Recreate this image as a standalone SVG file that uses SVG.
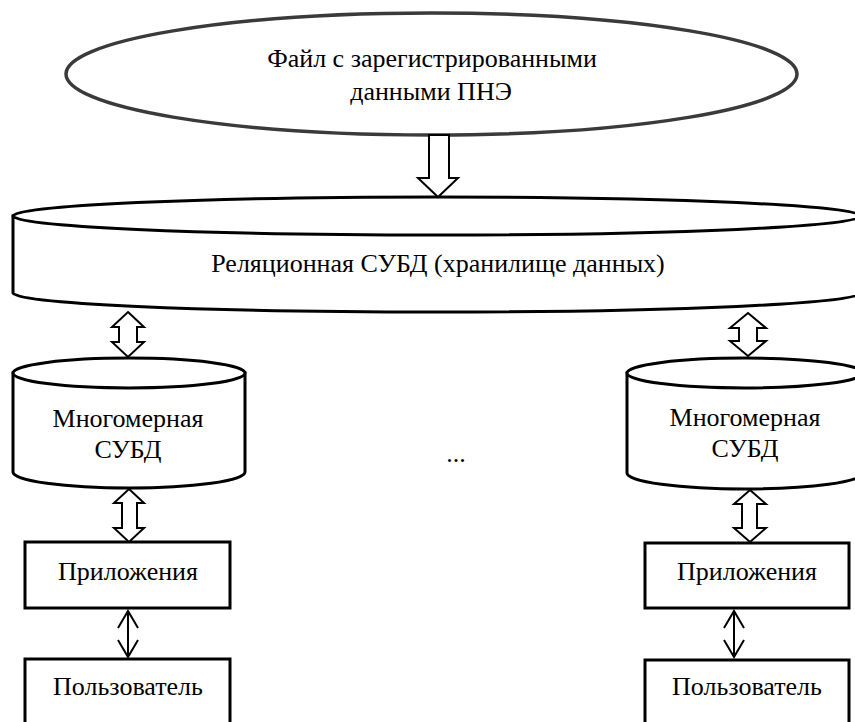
<svg xmlns="http://www.w3.org/2000/svg" width="855" height="722" viewBox="0 0 855 722">
<style>
text{font-family:"Liberation Serif","Times New Roman",serif;font-size:26px;fill:#000;text-anchor:middle}
.shape{fill:#fff;stroke:#000;stroke-width:3}
.hollow{fill:#fff;stroke:#000;stroke-width:2;stroke-linejoin:miter}
.line{fill:none;stroke:#000;stroke-width:2}
</style>
<rect width="855" height="722" fill="#fff"/>
<g id="file">
<ellipse cx="431.5" cy="74" rx="365.5" ry="61" fill="#fff" stroke="#3a3a3a" stroke-width="3.5"/>
<text x="432" y="67">Файл с зарегистрированными</text>
<text x="431" y="100">данными ПНЭ</text>
</g>
<g id="rdbms">
<path class="shape" d="M13 216 L13 293 A424 19 0 0 0 861 293 L861 216 Z"/>
<ellipse class="shape" cx="437" cy="216" rx="424" ry="19"/>
<text x="438" y="272">Реляционная СУБД (хранилище данных)</text>
</g>
<g id="mdb1">
<path class="shape" d="M13 373 L13 472 A116 16 0 0 0 245 472 L245 373 Z"/>
<ellipse class="shape" cx="129" cy="373" rx="116" ry="15"/>
<text x="128" y="427">Многомерная</text>
<text x="128" y="458">СУБД</text>
</g>
<g id="mdb2">
<path class="shape" d="M627 373 L627 473 A118 16 0 0 0 863 473 L863 373 Z"/>
<ellipse class="shape" cx="745" cy="373" rx="118" ry="15"/>
<text x="745" y="426">Многомерная</text>
<text x="745" y="457">СУБД</text>
</g>
<g id="app1">
<rect class="shape" x="25" y="542" width="205" height="66"/>
<text x="128" y="580">Приложения</text>
</g>
<g id="app2">
<rect class="shape" x="645" y="543" width="204" height="65"/>
<text x="747" y="580">Приложения</text>
</g>
<g id="user1">
<rect class="shape" x="25" y="659" width="205" height="70"/>
<text x="128" y="695">Пользователь</text>
</g>
<g id="user2">
<rect class="shape" x="645" y="660" width="204" height="70"/>
<text x="747" y="695">Пользователь</text>
</g>
<g id="dots">
<text x="456" y="462">...</text>
</g>
<g id="connectors">
<polygon class="hollow" points="429,135 449,135 449,178 458,178 438,197 418,178 429,178"/>
<polygon class="hollow" points="128,312 144,327 137,327 137,342 144,342 128,357 112,342 119,342 119,327 112,327"/>
<polygon class="hollow" points="748,313 766,328 757,328 757,341 766,341 748,356 730,341 739,341 739,328 730,328"/>
<polygon class="hollow" points="129,489 144,503 137,503 137,528 144,528 129,542 114,528 122,528 122,503 114,503"/>
<polygon class="hollow" points="750,490 766,504 757,504 757,528 766,528 750,542 734,528 742,528 742,504 734,504"/>
<path class="line" d="M128 611 L128 657 M118 628 L128 611 L138 628 M118 640 L128 657 L138 640"/>
<path class="line" d="M734 611 L734 657 M724 628 L734 611 L744 628 M724 640 L734 657 L744 640"/>
</g>
</svg>
